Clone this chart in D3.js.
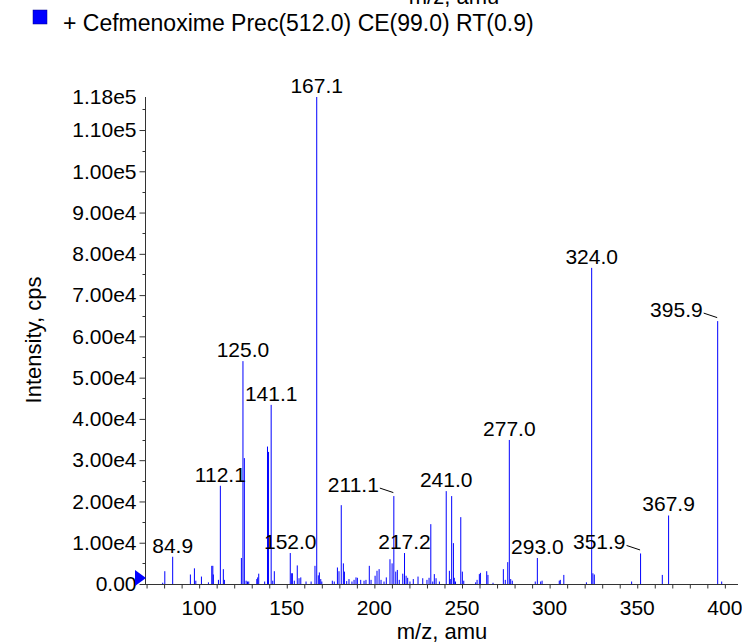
<!DOCTYPE html>
<html>
<head>
<meta charset="utf-8">
<script src="https://cdn.jsdelivr.net/npm/d3@7"></script>
<style>
  html, body { margin: 0; padding: 0; background: #fff; }
  svg { display: block; font-family: "Liberation Sans", Arial, Helvetica, sans-serif; }
</style>
</head>
<body>
<svg id="chart" width="742" height="643"></svg>
<script>
// ---------- data ----------
const legendText = "+ Cefmenoxime Prec(512.0) CE(99.0) RT(0.9)";
const xTitle = "m/z, amu";
const yTitle = "Intensity, cps";

const peakMz = [
  79.2, 80.4, 84.9, 95.0, 97.3, 98.1, 101.3, 105.3, 107.2, 107.8, 108.1, 111.0, 112.1, 113.8, 114.4,
  124.1, 125.0, 125.8, 126.8, 127.6, 128.3, 132.9, 133.4, 134.0, 137.4, 139.0, 139.6, 141.1, 142.0, 142.9,
  152.0, 152.8, 153.2, 154.3, 156.0, 157.0, 158.0, 161.0, 163.9, 166.1, 167.1, 168.0, 168.6, 169.4, 170.0,
  176.0, 177.1, 178.9, 179.8, 181.1, 182.3, 182.9, 184.2, 185.5, 187.2, 188.4, 189.5, 190.3, 192.2, 194.1,
  195.2, 197.1, 198.1, 200.4, 201.5, 202.7, 203.8, 205.5, 206.8, 208.9, 210.1, 211.1, 212.2, 213.1, 214.2,
  216.2, 217.2, 218.1, 219.0, 220.3, 222.2, 224.9, 227.6, 230.0, 231.2, 232.2, 233.3, 234.2, 235.2, 237.1,
  241.0, 242.8, 243.3, 244.1, 245.1, 245.6, 246.3, 249.3, 250.2, 251.0, 257.8, 258.6, 259.9, 260.5, 264.1,
  264.8, 267.7, 273.6, 274.7, 276.1, 277.0, 277.8, 278.7, 291.8, 293.0, 294.9, 295.7, 305.5, 306.1, 308.1,
  321.0, 324.0, 324.7, 325.5, 346.8, 351.9, 364.3, 367.9, 395.9, 398.2
];
const peakIntensity = [
  300, 3100, 6600, 2300, 3800, 800, 1800, 400, 4400, 4400, 2300, 1000, 23800, 3600, 1000,
  6300, 54000, 30500, 800, 600, 600, 1200, 1600, 2500, 600, 33300, 32000, 43400, 800, 3100,
  7500, 2600, 2600, 800, 4500, 1400, 1600, 600, 600, 4400, 118000, 2100, 2800, 1200, 600,
  800, 600, 4000, 3100, 19100, 5000, 3000, 700, 1200, 600, 1000, 1600, 1500, 1000, 800,
  1000, 4400, 1000, 2000, 3200, 3600, 1000, 600, 1600, 6000, 5000, 21300, 3000, 3400, 1000,
  2500, 7500, 2000, 1500, 600, 1200, 1800, 1400, 1000, 1500, 14500, 600, 2400, 1400, 600,
  22500, 3200, 1200, 21300, 9900, 1500, 600, 16200, 3000, 800, 400, 1000, 2400, 2700, 3100,
  2200, 300, 3600, 1000, 5300, 34900, 1200, 800, 600, 6300, 600, 800, 800, 1000, 2200,
  400, 76600, 2600, 2300, 600, 7400, 2200, 16600, 63700, 600
];

// labelled peaks (m/z of the peak that carries the label)
const labelMz   = [84.9, 112.1, 125.0, 141.1, 152.0, 167.1, 211.1, 217.2, 241.0, 277.0, 293.0, 324.0, 351.9, 367.9, 395.9];
const labelText = ["84.9", "112.1", "125.0", "141.1", "152.0", "167.1", "211.1", "217.2", "241.0", "277.0", "293.0", "324.0", "351.9", "367.9", "395.9"];
// labels drawn to the left of their peak with a leader line
const leaderLabels = ["211.1", "351.9", "395.9"];

const xMajorTicks = [100, 150, 200, 250, 300, 350, 400];
const xMinorTicks = d3.range(70, 410, 10);
const yTickValues = [0, 10000, 20000, 30000, 40000, 50000, 60000, 70000, 80000, 90000, 100000, 110000];
const yMinorTicks = [5000, 15000, 25000, 35000, 45000, 55000, 65000, 75000, 85000, 95000, 105000, 115000];
const yMax = 118000;
const yTopLabel = "1.18e5";

// ---------- layout ----------
const svg = d3.select("#chart");
const x = d3.scaleLinear().domain([69.1, 407.5]).range([145, 738]);
const y = d3.scaleLinear().domain([0, yMax]).range([584, 97]);
const axisColor = "#333";
const FS = 21;      // tick & peak labels
const FT = 22;      // axis titles

// peaks
const peaks = peakMz.map((m, i) => ({ mz: m, v: peakIntensity[i] }));
svg.append("g").selectAll("line").data(peaks).join("line")
  .attr("x1", d => x(d.mz)).attr("x2", d => x(d.mz))
  .attr("y1", y(0)).attr("y2", d => y(d.v))
  .attr("stroke", "#0000ff").attr("stroke-width", 1);

// x axis
const xAxis = svg.append("g").attr("transform", `translate(0,${y(0) + 0.5})`);
xAxis.append("line").attr("x1", 145).attr("x2", 738).attr("y1", 0).attr("y2", 0)
  .attr("stroke", axisColor).attr("stroke-width", 1);
xAxis.call(d3.axisBottom(x).tickValues(xMinorTicks).tickSize(4).tickFormat(""))
  .call(g => g.select(".domain").remove())
  .call(g => g.selectAll(".tick line").attr("stroke", axisColor));
xAxis.append("g").selectAll("text").data(xMajorTicks).join("text")
  .attr("x", d => x(d)).attr("y", 30).attr("text-anchor", "middle")
  .attr("font-size", FS).attr("fill", "#000").text(d => d);

// y axis
const yAxis = svg.append("g").attr("transform", "translate(145.5,0)");
yAxis.call(d3.axisLeft(y).tickValues(yTickValues).tickSize(6).tickPadding(3)
    .tickFormat(v => v === 0 ? "0.00" : v.toExponential(2).replace("e+", "e")))
  .call(g => g.select(".domain").remove())
  .call(g => g.selectAll(".tick line").attr("stroke", axisColor))
  .call(g => g.selectAll(".tick text").attr("font-size", FS).attr("fill", "#000").attr("font-family", null));
yAxis.append("g").selectAll("line").data(yMinorTicks).join("line")
  .attr("x1", -3).attr("x2", 0).attr("y1", d => Math.round(y(d)) + 0.5).attr("y2", d => Math.round(y(d)) + 0.5)
  .attr("stroke", axisColor);
yAxis.append("line").attr("x1", 0).attr("x2", 0).attr("y1", y(yMax)).attr("y2", y(0) + 1)
  .attr("stroke", axisColor);
yAxis.append("text").attr("x", -9).attr("y", y(yMax)).attr("dy", "0.32em")
  .attr("text-anchor", "end").attr("font-size", FS).attr("fill", "#000").text(yTopLabel);
// zero marker
svg.append("path").attr("d", "M135,570L146,578L135,586Z").attr("fill", "#0000ff");

// peak labels
labelMz.forEach((m, i) => {
  const v = peakIntensity[peakMz.indexOf(m)];
  const px = x(m), py = y(v);
  const t = labelText[i];
  if (leaderLabels.includes(t)) {
    svg.append("text").attr("x", px - 15).attr("y", py - 4).attr("text-anchor", "end")
      .attr("font-size", FS).text(t);
    svg.append("line").attr("x1", px - 14).attr("y1", py - 8).attr("x2", px - 0.5).attr("y2", py - 3.5)
      .attr("stroke", "#000").attr("stroke-width", 1);
  } else {
    svg.append("text").attr("x", px).attr("y", py - 4).attr("text-anchor", "middle")
      .attr("font-size", FS).text(t);
  }
});

// titles
svg.append("text").attr("x", 442).attr("y", 639).attr("text-anchor", "middle")
  .attr("font-size", FT).text(xTitle);
svg.append("text").attr("x", 454).attr("y", 3.5).attr("text-anchor", "middle")
  .attr("font-size", FT).text(xTitle);
svg.append("text").attr("transform", "translate(41,340) rotate(-90)").attr("text-anchor", "middle")
  .attr("font-size", FT).text(yTitle);

// legend
svg.append("rect").attr("x", 33).attr("y", 10).attr("width", 14).attr("height", 14)
  .attr("fill", "#0000ff").attr("stroke", "#00008b").attr("stroke-width", 0.5);
svg.append("text").attr("x", 63).attr("y", 31).attr("font-size", 23).text(legendText);
</script>
</body>
</html>
